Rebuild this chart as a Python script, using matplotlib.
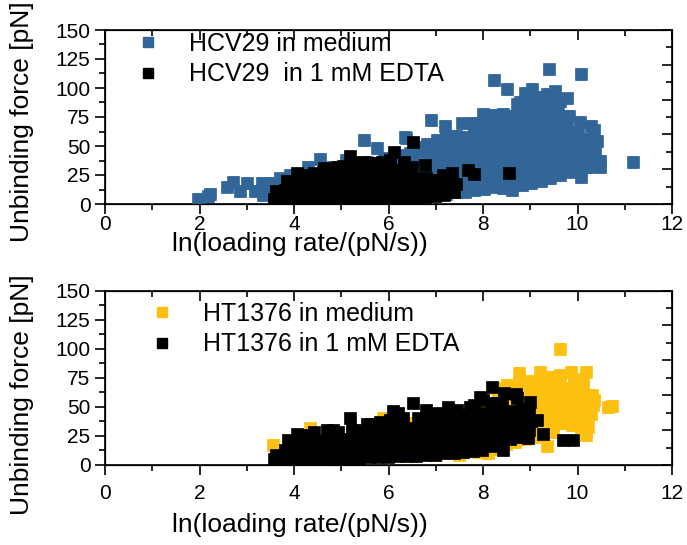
import matplotlib
matplotlib.use("Agg")
import matplotlib.pyplot as plt
from matplotlib.lines import Line2D
from matplotlib.ticker import MultipleLocator

plt.rcParams['font.family'] = ['Liberation Sans', 'DejaVu Sans']

# ---- top panel: HCV29 in medium (blue) ----
hcv_med_x = [
    # sparse low loading-rate tail
    1.97, 2.19, 2.22, 2.58, 2.70, 2.86, 3.00, 3.17, 3.32, 3.35, 3.49, 3.55,
    3.70, 3.92, 4.30, 4.56, 4.83, 5.11, 5.48, 5.54, 5.76, 5.90, 6.35, 6.38,
    # mostly hidden under the EDTA points
    3.80, 4.10, 4.50, 4.90, 5.30, 5.70, 6.00, 6.30, 6.20, 6.50, 6.60, 6.70,
    4.20, 4.70, 5.20, 5.60, 6.10, 6.45, 6.55,
    # main cloud
    6.82, 6.78, 6.82, 6.78, 6.82, 6.78, 6.82,
    7.02, 6.98, 7.02, 6.98, 7.02, 6.98, 7.02, 6.89,
    7.22, 7.18, 7.22, 7.18, 7.22, 7.18, 7.22, 7.20,
    7.42, 7.38, 7.42, 7.38, 7.42, 7.38, 7.42,
    7.62, 7.58, 7.62, 7.58, 7.62, 7.58, 7.62, 7.56,
    7.82, 7.78, 7.82, 7.78, 7.82, 7.78, 7.82, 7.78,
    8.02, 7.98, 8.02, 7.98, 8.02, 7.98, 8.02, 7.98, 8.00,
    8.22, 8.18, 8.22, 8.18, 8.22, 8.18, 8.22, 8.18, 8.22, 8.23,
    8.42, 8.38, 8.42, 8.38, 8.42, 8.38, 8.42, 8.38, 8.42, 8.50,
    8.62, 8.58, 8.62, 8.58, 8.62, 8.58, 8.62, 8.58, 8.62, 8.71,
    8.82, 8.78, 8.82, 8.78, 8.82, 8.78, 8.82, 8.78, 8.82, 8.78, 8.89,
    9.02, 8.98, 9.02, 8.98, 9.02, 8.98, 9.02, 8.98, 9.02, 8.98, 9.03,
    9.22, 9.18, 9.22, 9.18, 9.22, 9.18, 9.22, 9.18, 9.22, 9.18,
    9.42, 9.38, 9.42, 9.38, 9.42, 9.38, 9.42, 9.38, 9.42, 9.35, 9.40,
    9.62, 9.58, 9.62, 9.58, 9.62, 9.58, 9.62, 9.58, 9.62, 9.52,
    9.82, 9.78, 9.82, 9.78, 9.82, 9.78, 9.82, 9.77,
    10.02, 9.98, 10.02, 9.98, 10.02, 10.05, 10.07, 10.07,
    10.22, 10.18, 10.22, 10.18, 10.28, 10.16,
    10.42, 10.38, 10.42, 10.34, 10.48, 10.48, 11.18,
]
hcv_med_y = [
    4.5, 6.5, 9, 15, 19, 11, 18, 11, 18, 8, 18, 12,
    22, 25, 32, 39, 32, 38, 55, 36.5, 48.5, 40, 58, 57,
    4, 3, 3, 4, 3, 4, 3, 5, 42, 40, 46, 49,
    24, 27, 30, 33, 37, 44, 36,
    6, 14, 22, 30, 38, 46, 52,
    8, 16, 24, 32, 40, 48, 55, 72.4,
    9, 17, 25, 33, 41, 49, 57, 67.5,
    10, 18, 26, 34, 42, 50, 59,
    10, 18, 26, 34, 42, 50, 58, 69.5,
    12, 20, 28, 36, 44, 52, 60, 70,
    13, 21, 29, 37, 45, 53, 61, 69, 78,
    15, 23, 31, 39, 47, 55, 63, 71, 77, 107,
    14, 22, 30, 38, 46, 54, 62, 70, 78, 99,
    12, 20, 28, 36, 44, 52, 60, 68, 76, 86,
    16, 24, 32, 40, 48, 56, 64, 72, 80, 88, 96,
    18, 26, 34, 42, 50, 58, 66, 74, 82, 90, 99,
    20, 28, 36, 44, 52, 60, 68, 76, 84, 92,
    22, 30, 38, 46, 54, 62, 70, 78, 86, 95, 116,
    25, 33, 41, 49, 57, 65, 73, 81, 89, 97,
    28, 36, 44, 52, 60, 68, 76, 91,
    30, 38, 46, 54, 62, 71, 23, 112,
    32, 40, 48, 56, 67, 32,
    37, 46, 54, 64, 37, 32, 36,
]
hcv_med_err = 5.0

# ---- top panel: HCV29 in 1 mM EDTA (black) ----
hcv_edta_x = [
    3.58, 3.62,
    3.78, 3.82, 3.85,
    3.98, 4.02, 3.98, 4.06,
    4.18, 4.22, 4.18, 4.27,
    4.38, 4.42, 4.38, 4.42,
    4.58, 4.62, 4.58, 4.62, 4.63,
    4.78, 4.82, 4.78, 4.82, 4.90,
    4.98, 5.02, 4.98, 5.02, 5.03,
    5.18, 5.22, 5.18, 5.22, 5.22, 5.19,
    5.38, 5.42, 5.38, 5.42, 5.48,
    5.58, 5.62, 5.58, 5.62, 5.66,
    5.78, 5.82, 5.78, 5.82, 5.87,
    5.98, 6.02, 5.98, 6.02, 6.03, 6.12,
    6.18, 6.22, 6.18, 6.22, 6.32,
    6.38, 6.42, 6.38, 6.42,
    6.49, 6.52,
    6.58, 6.62, 6.58, 6.77,
    6.78, 6.82, 6.80,
    6.98, 7.02, 7.00, 7.16,
    7.18, 7.22, 7.34,
    7.38, 7.42,
    7.69, 7.81, 8.56,
]
hcv_edta_y = [
    4, 11,
    4, 12, 20,
    4, 12, 20, 27,
    4, 12, 20, 25,
    4, 12, 20, 27,
    4, 12, 20, 28, 31,
    4, 12, 20, 28, 32,
    4, 12, 20, 28, 33,
    4, 12, 20, 28, 36, 41,
    4, 12, 20, 28, 36,
    4, 12, 20, 28, 35,
    4, 12, 20, 28, 36,
    4, 12, 20, 28, 38, 45,
    5, 13, 21, 29, 36,
    5, 13, 21, 29,
    32, 53.7,
    6, 14, 22, 33.6,
    6, 14, 22,
    7, 15, 21, 25,
    8, 16, 26.4,
    10, 17,
    29.3, 25.6, 27,
]
hcv_edta_err = 3.0

# ---- bottom panel: HT1376 in medium (yellow) ----
ht_med_x = [
    3.55, 3.62, 3.98, 4.02, 4.38, 4.34, 4.42, 4.78, 4.82, 5.18, 5.22,
    5.58, 5.62, 5.89, 5.98, 6.02, 6.38, 6.42, 6.78, 6.82, 7.18, 7.22,
    7.58, 7.62, 7.98, 8.02,
    6.50, 7.00, 7.50, 7.90, 8.10, 8.30,
    8.28, 8.32, 8.28, 8.32, 8.28, 8.32, 8.30,
    8.48, 8.52, 8.48, 8.52, 8.48, 8.52, 8.48, 8.50,
    8.68, 8.72, 8.68, 8.72, 8.68, 8.72, 8.68, 8.76,
    8.88, 8.92, 8.88, 8.92, 8.88, 8.92, 8.88,
    9.08, 9.12, 9.08, 9.12, 9.08, 9.12, 9.08, 9.21,
    9.35,
    9.28, 9.32, 9.28, 9.32, 9.28, 9.32, 9.34,
    9.48, 9.52, 9.48, 9.52, 9.48, 9.52, 9.50,
    9.63,
    9.68, 9.72, 9.68, 9.72, 9.68, 9.63,
    9.88, 9.92, 9.88, 9.92, 9.88, 9.92, 9.86,
    10.08, 10.12, 10.08, 10.12, 10.08, 10.12, 10.18,
    10.19, 10.23,
    10.28, 10.32, 10.34, 10.30,
    10.65, 10.72,
]
ht_med_y = [
    17, 12, 12, 20, 14, 31.5, 24, 15, 25, 16, 28,
    18, 30, 40, 18, 32, 20, 36, 22, 40, 24, 44,
    26, 46, 28, 50,
    8, 9, 9, 11, 10, 14,
    20, 28, 36, 44, 52, 60, 66,
    18, 26, 34, 42, 50, 58, 66, 69,
    20, 28, 36, 44, 52, 60, 68, 79,
    22, 30, 38, 46, 54, 62, 72,
    24, 32, 40, 48, 56, 64, 72, 80,
    16,
    26, 34, 42, 50, 58, 66, 76,
    28, 36, 44, 52, 60, 68, 76,
    99.7,
    36, 42, 50, 58, 66, 77,
    34, 42, 50, 58, 66, 74, 80,
    33, 38, 46, 54, 62, 70, 80,
    26, 33,
    44, 52, 56, 60,
    50, 50.5,
]
ht_med_err = 5.0

# ---- bottom panel: HT1376 in 1 mM EDTA (black) ----
ht_edta_x = [
    3.58, 3.62,
    3.78, 3.82, 3.88,
    3.98, 4.02, 3.98, 4.06,
    4.18, 4.22, 4.18, 4.22,
    4.38, 4.42, 4.38, 4.42,
    4.58, 4.62, 4.58, 4.69,
    4.78, 4.82, 4.78, 4.82,
    4.98, 5.02, 4.98, 4.93,
    5.18, 5.22, 5.18, 5.22, 5.19,
    5.38, 5.42, 5.38, 5.42, 5.54,
    5.58, 5.62, 5.58, 5.62, 5.63,
    5.78, 5.82, 5.78, 5.82, 5.83,
    5.98, 6.02, 5.98, 6.02, 6.03, 6.10,
    6.18, 6.22, 6.18, 6.22, 6.23, 6.20,
    6.38, 6.42, 6.38, 6.42, 6.31,
    6.52,
    6.58, 6.62, 6.58, 6.62, 6.63,
    6.78, 6.82, 6.78, 6.82, 6.83, 6.80,
    6.98, 7.02, 6.98, 7.02, 7.03, 7.05,
    7.18, 7.22, 7.18, 7.22, 7.23, 7.26,
    7.38, 7.42, 7.38, 7.42, 7.43, 7.45,
    7.58, 7.62, 7.58, 7.62, 7.63, 7.72,
    7.78, 7.82, 7.78, 7.82, 7.83, 7.80,
    7.98, 8.02, 7.98, 8.02, 8.03, 8.00, 7.94,
    8.18, 8.22, 8.18, 8.22, 8.23, 8.20, 8.30, 8.18,
    8.38, 8.42, 8.38, 8.42, 8.40, 8.45, 8.43,
    8.58, 8.62, 8.58, 8.62, 8.70, 8.71,
    8.78, 8.82, 8.78, 8.82,
    8.98, 9.02, 8.98, 9.00, 8.96,
    9.15, 9.27, 9.69, 9.90,
]
ht_edta_y = [
    5, 9,
    5, 13, 21.5,
    5, 13, 21, 27,
    5, 13, 21, 26,
    5, 13, 21, 28,
    5, 13, 21, 30,
    6, 14, 22, 30,
    6, 14, 22, 28,
    6, 14, 22, 30, 40,
    6, 14, 22, 30, 35,
    7, 15, 23, 31, 35,
    7, 15, 23, 31, 37,
    7, 15, 23, 31, 39, 46,
    8, 16, 24, 32, 40, 45,
    8, 16, 24, 32, 40,
    53,
    8, 16, 24, 32, 40,
    9, 17, 25, 33, 41, 47,
    9, 17, 25, 33, 41, 45,
    10, 18, 26, 34, 42, 50,
    10, 18, 26, 34, 42, 47,
    11, 19, 27, 35, 43, 50,
    12, 20, 28, 36, 44, 52,
    13, 21, 29, 37, 45, 56, 58.7,
    16, 24, 32, 40, 48, 53, 53, 67,
    20, 28, 36, 44, 53, 62, 13,
    22, 30, 38, 46, 61, 58,
    24, 32, 40, 48,
    30, 38, 46, 54.5, 23,
    39, 26.7, 21.5, 21.5,
]
ht_edta_err = 3.0

blue = '#326699'
blue_err = '#86a6c8'
yellow = '#fdc010'
yellow_err = '#fedc6a'
black = '#000000'
black_err = '#555555'

fig = plt.figure(figsize=(6.87, 5.45), dpi=100)
ax1 = fig.add_axes([105 / 687, (545 - 204) / 545, 567 / 687, 174 / 545])
ax2 = fig.add_axes([105 / 687, (545 - 465) / 545, 567 / 687, 174.5 / 545])


def draw_series(ax, x, y, err, color, ecolor, z):
    # error bars under the squares, squares of a later series over both
    ax.errorbar(x, y, yerr=err, fmt='none', ecolor=ecolor, elinewidth=0.8,
                capsize=3, capthick=0.8, zorder=z)
    ax.plot(x, y, ls='none', marker='s', ms=8, mfc=color, mec=color,
            mew=0.5, zorder=z + 1)


draw_series(ax1, hcv_med_x, hcv_med_y, hcv_med_err, blue, blue_err, 2)
draw_series(ax1, hcv_edta_x, hcv_edta_y, hcv_edta_err, black, black_err, 4)
draw_series(ax2, ht_med_x, ht_med_y, ht_med_err, yellow, yellow_err, 2)
draw_series(ax2, ht_edta_x, ht_edta_y, ht_edta_err, black, black_err, 4)

for ax, pad in [(ax1, 1), (ax2, 7)]:
    ax.set_xlim(0, 12)
    ax.set_ylim(0, 150)
    ax.xaxis.set_major_locator(MultipleLocator(2))
    ax.xaxis.set_minor_locator(MultipleLocator(1))
    ax.yaxis.set_major_locator(MultipleLocator(25))
    ax.yaxis.set_minor_locator(MultipleLocator(12.5))
    ax.tick_params(which='both', direction='out', labelsize=15, width=1.2)
    ax.tick_params(axis='x', pad=pad)
    ax.tick_params(which='major', length=7)
    ax.tick_params(which='minor', length=4)
    for s in ax.spines.values():
        s.set_linewidth(1.2)

    # right axis in the original uses its own (0-125) scale, no labels
    axr = ax.twinx()
    axr.set_ylim(0, 125)
    axr.yaxis.set_major_locator(MultipleLocator(25))
    axr.yaxis.set_minor_locator(MultipleLocator(12.5))
    axr.tick_params(which='both', direction='in', labelright=False, width=1.2)
    axr.tick_params(which='major', length=7)
    axr.tick_params(which='minor', length=4)

    axt = ax.twiny()
    axt.set_xlim(0, 12)
    axt.xaxis.set_major_locator(MultipleLocator(2))
    axt.xaxis.set_minor_locator(MultipleLocator(1))
    axt.tick_params(which='both', direction='in', labeltop=False, width=1.2)
    axt.tick_params(which='major', length=7)
    axt.tick_params(which='minor', length=4)

# axis titles placed as in the original (off-centre)
xlab = 'ln(loading rate/(pN/s))'
fig.text(300 / 687, 1 - 244 / 545, xlab, ha='center', va='center', fontsize=19)
fig.text(300 / 687, 1 - 525 / 545, xlab, ha='center', va='center', fontsize=19)
ylab = 'Unbinding force [pN]'
fig.text(22 / 687, 1 - 122 / 545, ylab, ha='center', va='center', fontsize=19, rotation=90)
fig.text(22 / 687, 1 - 395 / 545, ylab, ha='center', va='center', fontsize=19, rotation=90)


def square(color):
    return Line2D([], [], ls='none', marker='s', ms=7, mfc=color, mec=color)


ax1.legend([square(blue), square(black)],
           ['HCV29 in medium', 'HCV29  in 1 mM EDTA'],
           loc='upper left', bbox_to_anchor=(133 / 687, 1 - 32 / 545),
           bbox_transform=fig.transFigure, frameon=False, fontsize=18,
           handlelength=1.2, handletextpad=1.05, labelspacing=0.25,
           borderpad=0, borderaxespad=0)
ax2.legend([square(yellow), square(black)],
           ['HT1376 in medium', 'HT1376 in 1 mM EDTA'],
           loc='upper left', bbox_to_anchor=(147 / 687, 1 - 302 / 545),
           bbox_transform=fig.transFigure, frameon=False, fontsize=18,
           handlelength=1.2, handletextpad=1.05, labelspacing=0.25,
           borderpad=0, borderaxespad=0)

fig.savefig('out.png', dpi=100)
